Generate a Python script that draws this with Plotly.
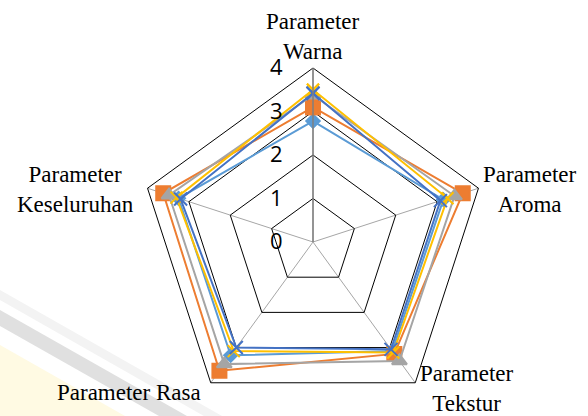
import plotly.graph_objects as go

categories = ["Parameter Warna", "Parameter Aroma", "Parameter Tekstur",
              "Parameter Rasa", "Parameter Keseluruhan"]
label_text = ["Parameter<br>Warna", "Parameter<br>Aroma", "Parameter<br>Tekstur",
              "Parameter Rasa", "Parameter<br>Keseluruhan"]

series_names = ["F1", "F2", "F3", "F4", "F5"]
f1 = [2.78, 3.15, 3.10, 3.22, 3.25]
f2 = [3.10, 3.62, 3.18, 3.66, 3.62]
f3 = [3.38, 3.42, 3.38, 3.47, 3.48]
f4 = [3.50, 3.25, 3.14, 3.10, 3.30]
f5 = [3.42, 3.08, 3.05, 3.00, 3.20]
series_values = [f1, f2, f3, f4, f5]

colors = ["#5B9BD5", "#ED7D31", "#A5A5A5", "#FFC000", "#4472C4"]
symbols = ["diamond", "square", "triangle-up", "x-thin-open", "x-thin-open"]
msizes = [10, 14, 13, 12, 13]

radial_ticks = [0, 1, 2, 3, 4]

fig = go.Figure()
for name, vals, c, s, ms in zip(series_names, series_values, colors, symbols, msizes):
    fig.add_trace(go.Scatterpolar(
        r=vals + vals[:1], theta=categories + categories[:1],
        mode="lines+markers", name=name,
        line=dict(color=c, width=2),
        marker=dict(symbol=s, size=ms, color=c, line=dict(color=c, width=2)),
        showlegend=False,
    ))

fig.update_layout(
    width=588, height=416,
    margin=dict(l=0, r=0, t=0, b=0),
    paper_bgcolor="white", plot_bgcolor="white",
    polar=dict(
        domain=dict(x=[139/588, 487/588], y=[0, 348/416]),
        bgcolor="rgba(0,0,0,0)",
        gridshape="linear",
        angularaxis=dict(
            rotation=90, direction="clockwise",
            categoryorder="array", categoryarray=categories,
            showticklabels=False, ticks="",
            gridcolor="#A6A6A6", gridwidth=1,
            linecolor="black", linewidth=1, showline=True,
        ),
        radialaxis=dict(
            range=[0, 4], tickvals=radial_ticks, ticktext=[str(t) for t in radial_ticks],
            angle=90, tickangle=90, side="counterclockwise",
            ticks="outside", ticklen=22, tickcolor="rgba(0,0,0,0)",
            tickfont=dict(family="Open Sans", size=22, color="black"),
            gridcolor="black", gridwidth=1,
            showline=True, linecolor="#7F7F7F", linewidth=1.5,
        ),
    ),
)

# faint background watermark stripes (bottom-left)
def ppath(points):
    return "M " + " L ".join(f"{x/588:.4f},{1 - y/416:.4f}" for x, y in points) + " Z"

fig.add_shape(type="path", xref="paper", yref="paper", layer="below",
              path=ppath([(0, 345), (125, 416), (0, 416)]),
              fillcolor="#FFFAE3", line=dict(width=0))
fig.add_shape(type="path", xref="paper", yref="paper", layer="below",
              path=ppath([(0, 290), (222, 416), (204, 416), (0, 300)]),
              fillcolor="#F3F3F3", line=dict(width=0))
fig.add_shape(type="path", xref="paper", yref="paper", layer="below",
              path=ppath([(0, 310), (187, 416), (159, 416), (0, 326)]),
              fillcolor="#E0E0E0", line=dict(width=0))

label_pos = [(313, 36), (530, 189), (467, 388), (129, 392), (75, 189)]
for txt, (px, py) in zip(label_text, label_pos):
    fig.add_annotation(
        x=px/588, y=1 - py/416, xref="paper", yref="paper",
        text=txt, showarrow=False, xanchor="center", yanchor="middle",
        font=dict(family="Liberation Serif", size=23, color="black"),
    )

fig.write_html("out.html")
